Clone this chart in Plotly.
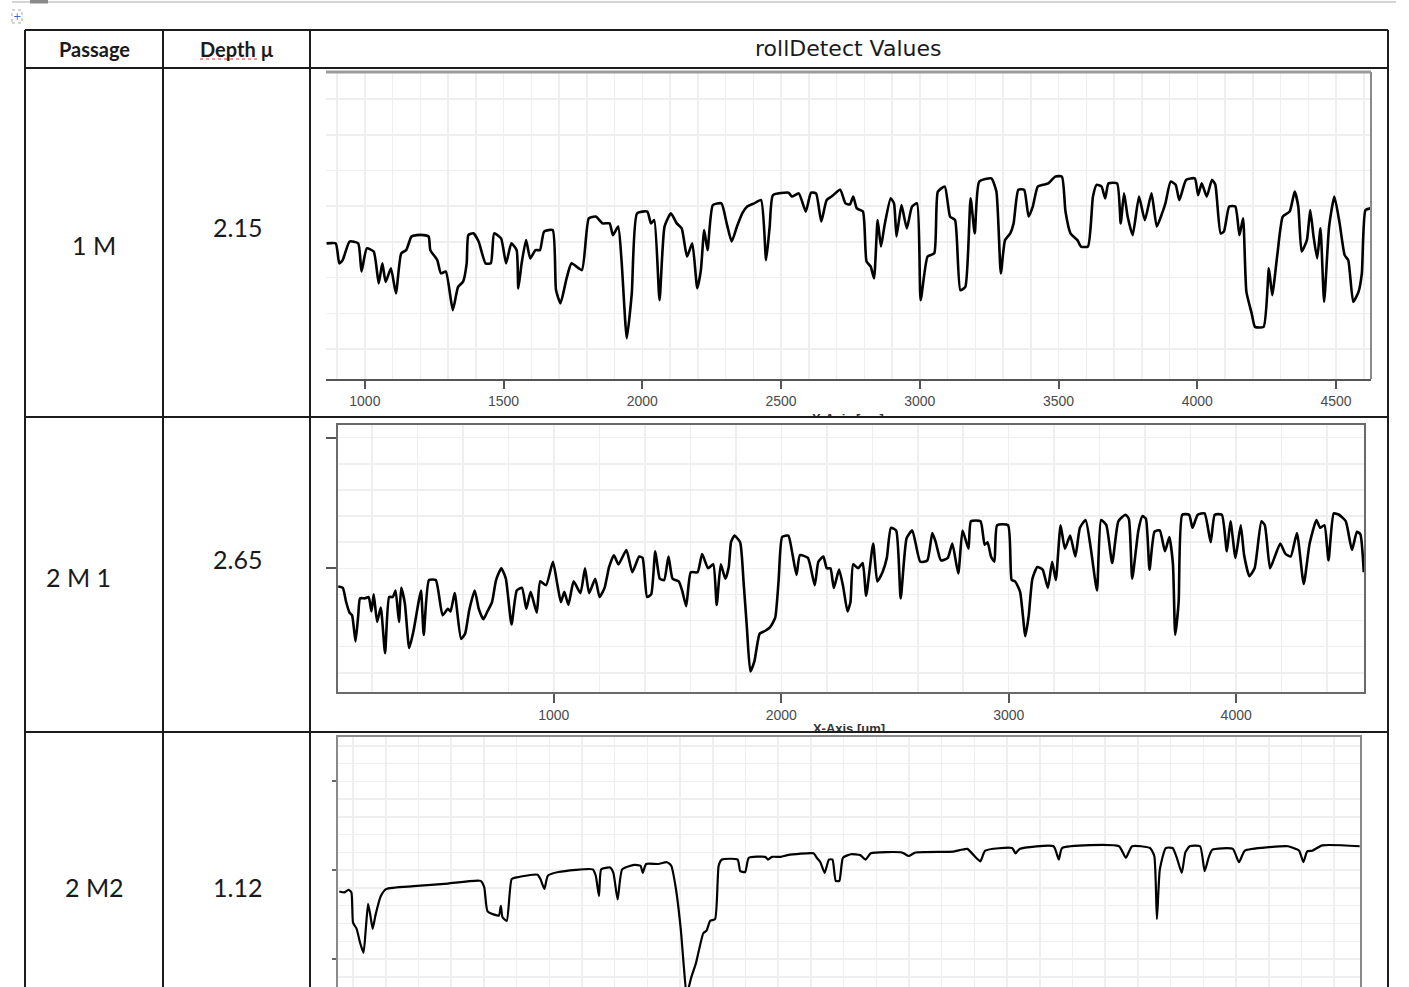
import plotly.graph_objects as go

# ---------------- data ----------------
header_labels = ["Passage", "Depth \u00b5", "rollDetect Values"]
passages = ["1 M", "2 M 1", "2 M2"]
depths = ["2.15", "2.65", "1.12"]
axis_title = ["X-Axis [\u00b5m]", "X-Axis [um]"]

x1 = [862, 895, 908, 920, 945, 976, 988, 1007, 1032, 1050,
      1063, 1075, 1094, 1112, 1131, 1149, 1168, 1187, 1212, 1230,
      1236, 1261, 1274, 1292, 1317, 1336, 1354, 1367, 1373, 1391,
      1410, 1435, 1454, 1466, 1491, 1509, 1528, 1547, 1553, 1565,
      1581, 1596, 1615, 1631, 1646, 1677, 1689, 1705, 1727, 1745,
      1782, 1807, 1832, 1857, 1882, 1894, 1913, 1925, 1944, 1962,
      1981, 2018, 2031, 2043, 2062, 2080, 2103, 2124, 2142, 2161,
      2180, 2198, 2211, 2223, 2235, 2254, 2285, 2304, 2322, 2341,
      2360, 2378, 2403, 2428, 2446, 2459, 2471, 2527, 2539, 2564,
      2589, 2608, 2626, 2645, 2664, 2682, 2713, 2732, 2748, 2760,
      2773, 2795, 2808, 2823, 2835, 2848, 2860, 2873, 2895, 2907,
      2916, 2934, 2953, 2972, 2990, 3003, 3028, 3052, 3065, 3090,
      3109, 3127, 3146, 3164, 3183, 3198, 3214, 3258, 3276, 3292,
      3307, 3326, 3338, 3355, 3376, 3392, 3407, 3425, 3444, 3463,
      3488, 3512, 3525, 3543, 3568, 3581, 3606, 3624, 3637, 3655,
      3668, 3680, 3711, 3724, 3736, 3749, 3767, 3790, 3811, 3835,
      3854, 3873, 3885, 3904, 3922, 3935, 3960, 3991, 4003, 4016,
      4034, 4053, 4065, 4084, 4096, 4115, 4137, 4152, 4165, 4177,
      4196, 4208, 4239, 4258, 4270, 4289, 4308, 4333, 4351, 4364,
      4376, 4395, 4407, 4419, 4432, 4444, 4457, 4475, 4494, 4513,
      4531, 4544, 4562, 4581, 4593, 4606, 4624]
y1 = [3.96, 3.96, 3.40, 3.49, 4.01, 3.96, 3.17, 3.82, 3.73, 2.84,
      3.40, 2.88, 3.26, 2.56, 3.68, 3.77, 4.15, 4.19, 4.19, 4.15,
      3.77, 3.49, 3.12, 3.17, 2.09, 2.74, 2.89, 3.40, 4.19, 4.24,
      4.01, 3.40, 3.40, 4.24, 4.10, 3.40, 3.96, 3.77, 2.70, 3.40,
      4.05, 3.54, 3.77, 3.77, 4.29, 4.33, 2.65, 2.28, 2.98, 3.40,
      3.21, 4.66, 4.71, 4.52, 4.52, 4.19, 4.43, 3.49, 1.30, 2.56,
      4.80, 4.85, 4.52, 4.61, 2.37, 4.43, 4.80, 4.52, 4.38, 3.59,
      3.96, 2.70, 3.21, 4.33, 3.77, 5.03, 5.08, 4.52, 4.01, 4.43,
      4.80, 4.99, 5.08, 5.17, 3.49, 4.43, 5.31, 5.38, 5.27, 5.36,
      4.85, 5.38, 5.36, 4.57, 5.17, 5.27, 5.46, 5.08, 5.05, 5.27,
      4.94, 4.85, 3.45, 3.31, 2.98, 4.61, 3.87, 4.47, 5.22, 5.08,
      4.15, 5.03, 4.38, 4.99, 5.08, 2.37, 3.59, 3.68, 5.41, 5.55,
      4.71, 4.61, 2.65, 2.74, 5.22, 4.24, 5.69, 5.78, 5.41, 3.12,
      4.05, 4.24, 4.52, 5.46, 5.46, 4.71, 4.99, 5.55, 5.60, 5.64,
      5.83, 5.83, 4.85, 4.24, 4.05, 3.87, 3.87, 5.27, 5.60, 5.55,
      5.22, 5.64, 5.64, 4.52, 5.36, 4.71, 4.19, 5.27, 4.61, 5.36,
      4.43, 4.80, 5.08, 5.69, 5.60, 5.17, 5.74, 5.78, 5.31, 5.64,
      5.27, 5.74, 5.60, 4.24, 4.29, 4.99, 4.99, 4.19, 4.66, 2.60,
      2.00, 1.62, 1.62, 3.26, 2.51, 3.68, 4.71, 4.85, 5.41, 4.99,
      3.73, 4.05, 4.89, 4.15, 3.54, 4.38, 2.32, 4.43, 5.27, 4.52,
      3.63, 3.49, 2.32, 2.60, 3.12, 4.89, 4.94]

x2 = [52, 72, 87, 102, 113, 128, 140, 148, 170, 186,
      198, 208, 223, 239, 258, 276, 292, 304, 319, 329,
      345, 364, 383, 405, 416, 428, 451, 481, 511, 534,
      546, 564, 592, 610, 628, 652, 670, 690, 708, 728,
      746, 769, 789, 814, 837, 860, 879, 898, 925, 940,
      966, 996, 1016, 1031, 1046, 1064, 1087, 1117, 1137, 1155,
      1182, 1201, 1223, 1243, 1264, 1284, 1319, 1345, 1375, 1390,
      1410, 1428, 1446, 1466, 1485, 1504, 1522, 1549, 1564, 1582,
      1602, 1632, 1652, 1678, 1701, 1716, 1734, 1754, 1769, 1779,
      1794, 1819, 1834, 1849, 1864, 1882, 1905, 1928, 1951, 1973,
      1988, 2004, 2031, 2049, 2067, 2082, 2117, 2147, 2163, 2185,
      2200, 2216, 2231, 2254, 2273, 2291, 2304, 2316, 2338, 2358,
      2373, 2404, 2422, 2445, 2464, 2482, 2505, 2525, 2551, 2576,
      2611, 2642, 2664, 2679, 2702, 2732, 2752, 2778, 2797, 2823,
      2834, 2876, 2894, 2907, 2922, 2937, 2949, 2997, 3013, 3028,
      3050, 3073, 3088, 3104, 3126, 3149, 3172, 3191, 3207, 3228,
      3247, 3270, 3293, 3313, 3338, 3361, 3388, 3406, 3429, 3455,
      3482, 3513, 3528, 3543, 3570, 3588, 3603, 3619, 3641, 3664,
      3687, 3706, 3722, 3732, 3747, 3763, 3793, 3808, 3831, 3861,
      3888, 3906, 3937, 3959, 3975, 3997, 4020, 4035, 4058, 4081,
      4111, 4126, 4149, 4172, 4194, 4217, 4240, 4267, 4297, 4323,
      4353, 4369, 4388, 4406, 4429, 4452, 4482, 4509, 4531, 4546,
      4561]
y2 = [1.86, 1.85, 1.74, 1.66, 1.64, 1.44, 1.64, 1.77, 1.77, 1.78,
      1.67, 1.80, 1.59, 1.70, 1.35, 1.78, 1.78, 1.83, 1.59, 1.85,
      1.73, 1.39, 1.52, 1.74, 1.83, 1.49, 1.91, 1.91, 1.64, 1.69,
      1.67, 1.81, 1.46, 1.50, 1.68, 1.83, 1.69, 1.61, 1.67, 1.74,
      1.91, 2.00, 1.92, 1.57, 1.83, 1.85, 1.69, 1.82, 1.66, 1.90,
      1.87, 2.05, 1.87, 1.74, 1.82, 1.72, 1.90, 1.81, 2.00, 1.81,
      1.92, 1.78, 1.85, 2.01, 2.10, 2.03, 2.14, 1.97, 2.09, 2.08,
      1.78, 1.80, 2.13, 1.92, 1.91, 2.09, 1.92, 1.90, 1.83, 1.71,
      1.97, 1.97, 2.11, 2.00, 2.03, 1.72, 2.03, 1.92, 2.01, 2.20,
      2.25, 2.20, 1.90, 1.54, 1.21, 1.29, 1.50, 1.52, 1.55, 1.62,
      1.90, 2.24, 2.25, 2.11, 1.95, 2.10, 2.08, 1.87, 2.05, 2.09,
      2.00, 2.00, 1.85, 1.99, 1.85, 1.67, 1.74, 2.03, 2.00, 2.04,
      1.79, 2.19, 1.90, 1.97, 2.08, 2.31, 2.29, 1.77, 2.23, 2.29,
      2.05, 2.06, 2.27, 2.20, 2.06, 2.08, 2.19, 1.96, 2.29, 2.15,
      2.36, 2.36, 2.18, 2.20, 2.09, 2.05, 2.33, 2.33, 1.91, 1.90,
      1.82, 1.48, 1.64, 1.92, 2.01, 1.99, 1.85, 2.05, 1.91, 2.33,
      2.15, 2.25, 2.09, 2.31, 2.37, 2.15, 1.83, 2.37, 2.33, 2.04,
      2.36, 2.41, 2.38, 1.92, 2.29, 2.40, 2.38, 1.99, 2.28, 2.29,
      2.13, 2.24, 2.03, 1.49, 1.74, 2.41, 2.41, 2.31, 2.41, 2.42,
      2.20, 2.41, 2.41, 2.13, 2.36, 2.08, 2.33, 2.10, 1.94, 2.00,
      2.36, 2.33, 2.00, 2.10, 2.19, 2.11, 2.09, 2.27, 1.88, 2.19,
      2.37, 2.31, 2.33, 2.06, 2.42, 2.41, 2.36, 2.14, 2.28, 2.26,
      1.97]

x3 = [58, 74, 86, 95, 100, 111, 121, 132, 139, 146,
      153, 160, 169, 185, 202, 285, 390, 490, 501, 511,
      532, 546, 552, 557, 570, 585, 601, 664, 673, 685,
      696, 728, 833, 842, 852, 859, 886, 896, 909, 923,
      960, 979, 986, 996, 1033, 1060, 1073, 1086, 1102, 1112,
      1120, 1134, 1149, 1171, 1181, 1192, 1207, 1218, 1228, 1276,
      1284, 1299, 1310, 1360, 1369, 1381, 1408, 1429, 1508, 1518,
      1529, 1542, 1555, 1566, 1576, 1587, 1598, 1622, 1651, 1667,
      1683, 1778, 1799, 1820, 1936, 1978, 2005, 2018, 2033, 2115,
      2126, 2138, 2242, 2258, 2268, 2442, 2463, 2482, 2537, 2550,
      2558, 2567, 2585, 2606, 2619, 2634, 2645, 2658, 2690, 2704,
      2716, 2727, 2790, 2809, 2827, 2959, 2975, 2993, 3006, 3017,
      3033, 3064, 3178]
y3 = [1.76, 1.75, 1.78, 1.75, 1.41, 1.34, 1.19, 1.07, 1.34, 1.62,
      1.49, 1.34, 1.50, 1.71, 1.79, 1.82, 1.85, 1.88, 1.81, 1.54,
      1.50, 1.49, 1.60, 1.47, 1.43, 1.90, 1.92, 1.95, 1.90, 1.79,
      1.94, 1.98, 2.01, 1.94, 1.71, 2.01, 2.03, 1.97, 1.67, 2.01,
      2.06, 2.05, 1.97, 2.07, 2.07, 2.09, 2.05, 1.82, 1.34, 0.89,
      0.60, 0.79, 0.96, 1.29, 1.32, 1.43, 1.45, 2.05, 2.12, 2.12,
      1.99, 1.98, 2.14, 2.15, 2.12, 2.15, 2.15, 2.17, 2.19, 2.14,
      2.09, 1.97, 2.12, 2.12, 1.88, 1.88, 2.14, 2.18, 2.17, 2.12,
      2.19, 2.20, 2.16, 2.20, 2.21, 2.24, 2.14, 2.10, 2.22, 2.25,
      2.19, 2.24, 2.27, 2.12, 2.25, 2.27, 2.14, 2.27, 2.25, 2.16,
      1.45, 2.01, 2.25, 2.25, 2.14, 1.97, 2.20, 2.27, 2.27, 1.99,
      2.14, 2.23, 2.24, 2.09, 2.22, 2.27, 2.25, 2.22, 2.09, 2.21,
      2.22, 2.28, 2.27]

# ---------------- layout geometry (pixels) ----------------
W, H = 1409, 987


def px(x):
    return x / W


def py(y):
    return 1 - y / H


table_left, table_right = 25, 1388
col_lines = [163, 310]
row_lines = [30, 68, 417, 732]
line_col = "#1c1c1c"

GRID = "#efefef"
CELL_FONT = "Lato, 'Open Sans', sans-serif"
TICK_FONT = dict(family="Liberation Sans, Arial, sans-serif", size=14, color="#4a4a4a")
TRACE_LINE = dict(color="black", width=2.6, shape="spline", smoothing=0.5)

fig = go.Figure()

fig.add_trace(go.Scatter(x=x1, y=y1, mode="lines", xaxis="x", yaxis="y",
                         line=TRACE_LINE, hoverinfo="skip"))
fig.add_trace(go.Scatter(x=x2, y=y2, mode="lines", xaxis="x2", yaxis="y2",
                         line=TRACE_LINE, hoverinfo="skip"))
fig.add_trace(go.Scatter(x=x3, y=y3, mode="lines", xaxis="x3", yaxis="y3",
                         line=dict(TRACE_LINE, width=2.2), hoverinfo="skip"))

# partially hidden axis titles (clipped by helper subplots)
fig.add_trace(go.Scatter(x=[0.499], y=[-0.10], mode="text", text=["<b>" + axis_title[0] + "</b>"],
                         xaxis="x4", yaxis="y4", cliponaxis=True,
                         textfont=dict(family="Liberation Sans, Arial", size=13, color="#333"),
                         hoverinfo="skip"))
fig.add_trace(go.Scatter(x=[0.50], y=[0.10], mode="text", text=["<b>" + axis_title[1] + "</b>"],
                         xaxis="x5", yaxis="y5", cliponaxis=True,
                         textfont=dict(family="Liberation Sans, Arial", size=13, color="#333"),
                         hoverinfo="skip"))

minor_grid = lambda d: dict(dtick=d, showgrid=True, gridcolor=GRID, gridwidth=1.5, ticks="")

layout = dict(
    width=W, height=H, margin=dict(l=0, r=0, t=0, b=0),
    paper_bgcolor="white", plot_bgcolor="white", showlegend=False,
    # plot 1
    xaxis=dict(domain=[px(326), px(1371)], range=[860, 4626], anchor="y",
               tick0=0, dtick=500, showgrid=True, gridcolor=GRID, gridwidth=1.5,
               minor=minor_grid(100), zeroline=False,
               showline=True, linecolor="#555", linewidth=2,
               ticks="outside", ticklen=8, tickwidth=2, tickcolor="#555",
               tickfont=TICK_FONT, fixedrange=True),
    yaxis=dict(domain=[py(379), py(72)], range=[0.16, 8.76], anchor="x",
               tick0=0, dtick=1, showgrid=True, gridcolor=GRID, gridwidth=1.5,
               showticklabels=False, ticks="", zeroline=False, showline=False,
               fixedrange=True),
    # plot 2
    xaxis2=dict(domain=[px(338), px(1364)], range=[51, 4562], anchor="y2",
                tick0=0, dtick=1000, showgrid=True, gridcolor=GRID, gridwidth=1.5,
                minor=minor_grid(200), zeroline=False,
                showline=True, mirror=True, linecolor="#6a6a6a", linewidth=2,
                ticks="outside", ticklen=9, tickwidth=2, tickcolor="#555",
                tickfont=TICK_FONT, fixedrange=True),
    yaxis2=dict(domain=[py(692), py(425)], range=[1.053, 3.097], anchor="x2",
                tick0=0, dtick=1, showgrid=True, gridcolor=GRID, gridwidth=1.5,
                minor=minor_grid(0.2), zeroline=False,
                showline=True, mirror=True, linecolor="#6a6a6a", linewidth=2,
                ticks="outside", ticklen=10, tickwidth=2, tickcolor="#555",
                showticklabels=False, fixedrange=True),
    # plot 3
    xaxis3=dict(domain=[px(338), px(1360)], range=[54, 3179], anchor="y3",
                tick0=0, dtick=500, showgrid=True, gridcolor=GRID, gridwidth=1.5,
                minor=minor_grid(100), zeroline=False,
                showline=True, mirror=True, linecolor="#8a8a8a", linewidth=2,
                ticks="", showticklabels=False, fixedrange=True),
    yaxis3=dict(domain=[0, py(737)], range=[0.685, 3.50], anchor="x3",
                tick0=0, dtick=1, showgrid=True, gridcolor=GRID, gridwidth=1.5,
                minor=minor_grid(0.2), zeroline=False,
                showline=True, mirror=True, linecolor="#8a8a8a", linewidth=2,
                ticks="outside", ticklen=4, tickwidth=2, tickcolor="#666",
                showticklabels=False, fixedrange=True),
    # helper clipping strips for cut-off axis titles
    xaxis4=dict(domain=[px(310), px(1388)], range=[0, 1], anchor="y4", visible=False),
    yaxis4=dict(domain=[py(417), py(392)], range=[0, 1], anchor="x4", visible=False),
    xaxis5=dict(domain=[px(310), px(1388)], range=[0, 1], anchor="y5", visible=False),
    yaxis5=dict(domain=[py(732), py(705)], range=[0, 1], anchor="x5", visible=False),
)
fig.update_layout(**layout)

shapes = []
# plot 1 top / right borders
shapes.append(dict(type="line", xref="x domain", yref="y domain", x0=0, x1=1, y0=1, y1=1,
                   line=dict(color="#9c9c9c", width=3), layer="above"))
shapes.append(dict(type="line", xref="x domain", yref="y domain", x0=1, x1=1, y0=0, y1=1,
                   line=dict(color="#8a8a8a", width=2), layer="above"))

# page edge line at top and small marks
shapes.append(dict(type="line", xref="paper", yref="paper", x0=px(12), x1=px(1396),
                   y0=py(2), y1=py(2), line=dict(color="#d4d4d4", width=2)))
shapes.append(dict(type="rect", xref="paper", yref="paper", x0=px(30), x1=px(48),
                   y0=py(3.5), y1=py(0), fillcolor="#8a8a8a", line=dict(width=0)))
shapes.append(dict(type="rect", xref="paper", yref="paper", x0=px(12), x1=px(22),
                   y0=py(23), y1=py(10), fillcolor="white",
                   line=dict(color="#a9a9a9", width=1, dash="dot")))

# table grid
for yl in row_lines:
    shapes.append(dict(type="line", xref="paper", yref="paper",
                       x0=px(table_left), x1=px(table_right), y0=py(yl), y1=py(yl),
                       line=dict(color=line_col, width=2), layer="above"))
for xl in [table_left] + col_lines + [table_right]:
    shapes.append(dict(type="line", xref="paper", yref="paper",
                       x0=px(xl), x1=px(xl), y0=py(row_lines[0]), y1=0,
                       line=dict(color=line_col, width=2), layer="above"))

# spell-check squiggle under "Depth"
shapes.append(dict(type="line", xref="paper", yref="paper", x0=px(200), x1=px(258),
                   y0=py(59), y1=py(59), line=dict(color="#e03030", width=1.2, dash="dot")))

annotations = []


def cell_text(text, x, y, size, bold=False, family=CELL_FONT, color="#1a1a1a"):
    annotations.append(dict(xref="paper", yref="paper", x=px(x), y=py(y),
                            text=("<b>%s</b>" % text) if bold else text,
                            showarrow=False, xanchor="center", yanchor="middle",
                            font=dict(family=family, size=size, color=color)))


cell_text(header_labels[0], 94, 49, 20, bold=True)
cell_text(header_labels[1], 237, 49, 20, bold=True)
cell_text(header_labels[2], 848, 49, 22, family="'DejaVu Sans', sans-serif")

passage_pos = [(94, 245), (78, 577), (94, 887)]
depth_pos = [(237, 227), (237, 559), (237, 887)]
for label, (x, y) in zip(passages, passage_pos):
    cell_text(label, x, y, 25)
for label, (x, y) in zip(depths, depth_pos):
    cell_text(label, x, y, 25)

# tiny blue move-handle glyph
annotations.append(dict(xref="paper", yref="paper", x=px(17), y=py(16.5), text="+",
                        showarrow=False, xanchor="center", yanchor="middle",
                        font=dict(family="DejaVu Sans", size=10, color="#3a6fd8")))

fig.update_layout(shapes=shapes, annotations=annotations)

fig.write_html(
    "out.html",
    config={"displayModeBar": False, "staticPlot": True},
    post_script="document.body.style.margin='0px';document.body.style.overflow='hidden';",
)
